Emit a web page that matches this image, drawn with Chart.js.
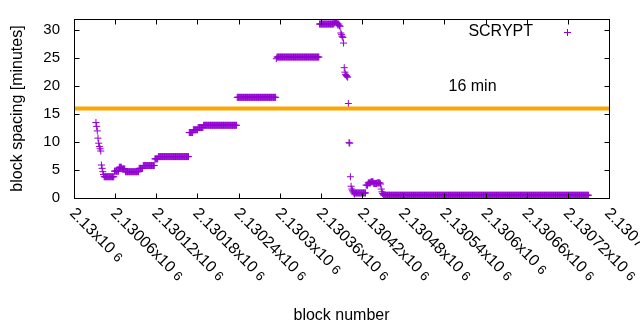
<!DOCTYPE html>
<html>
<head>
<meta charset="utf-8">
<script src="https://cdn.jsdelivr.net/npm/chart.js@4"></script>
<style>
  html, body { margin: 0; padding: 0; background: #fff; }
</style>
</head>
<body>
<canvas id="spacingChart" width="640" height="330"></canvas>
<script>
// block number = baseBlock + offset, spacing in minutes (runs of equal spacing)
var baseBlock = 2130000;
var runStart = [32, 33, 34, 35, 36, 37, 38, 39, 40, 41, 42, 43, 44, 59, 66, 70, 75, 95, 101, 118, 123, 168, 174, 181, 189, 238, 295, 296, 358,
  379, 380, 381, 382, 383, 384, 385, 386, 387, 388, 389, 390, 391, 392, 393, 394, 395, 396, 397, 398, 399, 400, 401, 402, 403, 404, 405, 406, 407, 408, 409, 410,
  426, 429, 433, 437, 442, 447, 448, 449, 450, 451, 452];
var runEnd = [32, 33, 34, 35, 36, 37, 38, 39, 40, 41, 42, 43, 58, 65, 69, 74, 94, 100, 117, 122, 167, 173, 180, 188, 237, 294, 295, 357, 378,
  379, 380, 381, 382, 383, 384, 385, 386, 387, 388, 389, 390, 391, 392, 393, 394, 395, 396, 397, 398, 399, 400, 401, 402, 403, 404, 405, 406, 407, 408, 409, 425,
  428, 432, 436, 441, 446, 447, 448, 449, 450, 451, 750];
var runMinutes = [13.5, 12.8, 12.0, 10.7, 9.8, 9.2, 8.8, 8.4, 5.9, 5.3, 4.7, 4.2, 3.8, 4.8, 5.5, 5.2, 4.7, 5.3, 5.8, 7.0, 7.4, 11.7, 12.2, 12.6, 13.0, 18.0, 24.9, 25.2, 31.1,
  31.2, 31.4, 31.6, 32.0, 31.4, 31.1, 30.9, 31.1, 30.8, 30.7, 29.5, 29.2, 28.9, 28.7, 27.7, 23.3, 22.5, 22.1, 21.9, 21.7, 21.6, 16.9, 9.9, 9.8, 3.8, 2.1, 1.6, 1.3, 1.1, 0.9, 0.7, 0.9,
  2.3, 2.7, 2.9, 2.6, 2.7, 2.5, 1.6, 1.1, 0.8, 0.6, 0.5];

var targetMinutes = 16;
var targetLabel = '16 min';
var targetLabelBlock = 2130546;
var targetLabelMinutes = 20;

var xTickValues = [2130000, 2130060, 2130120, 2130180, 2130240, 2130300, 2130360, 2130420, 2130480, 2130540, 2130600, 2130660, 2130720, 2130780];
var xTickLabels = ['2.13', '2.13006', '2.13012', '2.13018', '2.13024', '2.1303', '2.13036', '2.13042', '2.13048', '2.13054', '2.1306', '2.13066', '2.13072', '2.13078'];
var xTickExponent = '6';
var yTickValues = [0, 5, 10, 15, 20, 25, 30];

var purple = '#9400d3';
var fontFamily = '"Liberation Sans", Arial, sans-serif';
Chart.defaults.font.family = fontFamily;
Chart.defaults.color = '#000';

var points = [];
for (var i = 0; i < runStart.length; i++) {
  for (var b = runStart[i]; b <= runEnd[i]; b++) {
    points.push({ x: baseBlock + b, y: runMinutes[i] });
  }
}

// box, inward ticks, rotated x labels, key and the 16 min label
var gnuplotDecor = {
  id: 'gnuplotDecor',
  afterDraw: function (chart) {
    var ctx = chart.ctx;
    var a = chart.chartArea;
    var xs = chart.scales.x;
    var ys = chart.scales.y;
    var L = Math.round(a.left) + 0.5, R = Math.round(a.right) + 0.5;
    var T = Math.round(a.top) + 0.5, B = Math.round(a.bottom) + 0.5;
    ctx.save();
    ctx.strokeStyle = '#000';
    ctx.lineWidth = 1;
    ctx.strokeRect(L, T, R - L, B - T);
    ctx.beginPath();
    xTickValues.forEach(function (v) {
      var px = Math.round(xs.getPixelForValue(v)) + 0.5;
      ctx.moveTo(px, B); ctx.lineTo(px, B - 5);
      ctx.moveTo(px, T); ctx.lineTo(px, T + 5);
    });
    yTickValues.forEach(function (v) {
      var py = Math.round(ys.getPixelForValue(v)) + 0.5;
      ctx.moveTo(L, py); ctx.lineTo(L + 5, py);
      ctx.moveTo(R, py); ctx.lineTo(R - 5, py);
    });
    ctx.stroke();

    ctx.fillStyle = '#000';
    ctx.textBaseline = 'middle';
    ctx.textAlign = 'left';
    xTickValues.forEach(function (v, i) {
      var px = xs.getPixelForValue(v);
      ctx.save();
      ctx.translate(px - 2, 211);
      ctx.rotate(Math.PI / 4);
      ctx.font = '16px ' + fontFamily;
      var main = xTickLabels[i] + 'x10';
      ctx.fillText(main, 0, 0);
      var w = ctx.measureText(main + ' ').width;
      ctx.font = '13px ' + fontFamily;
      ctx.fillText(xTickExponent, w, 1);
      ctx.restore();
    });

    ctx.font = '16px ' + fontFamily;
    ctx.textAlign = 'right';
    ctx.fillText(chart.data.datasets[1].label, 533, 32);
    ctx.strokeStyle = purple;
    ctx.beginPath();
    ctx.moveTo(564, 32.5); ctx.lineTo(571, 32.5);
    ctx.moveTo(567.5, 29); ctx.lineTo(567.5, 36);
    ctx.stroke();

    ctx.textAlign = 'left';
    ctx.fillText(targetLabel, xs.getPixelForValue(targetLabelBlock), ys.getPixelForValue(targetLabelMinutes));
    ctx.restore();
  }
};

var ctx = document.getElementById('spacingChart').getContext('2d');
var spacingChart = new Chart(ctx, {
  type: 'scatter',
  data: {
    datasets: [{
      type: 'line',
      label: 'target',
      data: [{ x: xTickValues[0], y: targetMinutes }, { x: xTickValues[xTickValues.length - 1], y: targetMinutes }],
      borderColor: '#ffa500',
      borderWidth: 4,
      borderCapStyle: 'square',
      pointRadius: 0
    }, {
      label: 'SCRYPT',
      data: points,
      pointStyle: 'cross',
      pointRadius: 3.5,
      borderColor: purple,
      backgroundColor: purple,
      borderWidth: 1
    }]
  },
  options: {
    responsive: false,
    animation: false,
    events: [],
    layout: { padding: { top: 19, right: 31, left: 0, bottom: 0 } },
    plugins: { legend: { display: false }, tooltip: { enabled: false } },
    scales: {
      x: {
        type: 'linear',
        min: xTickValues[0],
        max: xTickValues[xTickValues.length - 1],
        afterBuildTicks: function (s) { s.ticks = xTickValues.map(function (v) { return { value: v }; }); },
        afterFit: function (s) { s.height = 132; s.paddingLeft = 0; s.paddingRight = 0; },
        ticks: { display: false },
        grid: { display: false },
        border: { display: false },
        title: { display: true, text: 'block number', font: { size: 16 }, padding: { top: 0, bottom: 5 } }
      },
      y: {
        min: 0,
        max: 32,
        afterBuildTicks: function (s) { s.ticks = yTickValues.map(function (v) { return { value: v }; }); },
        afterFit: function (s) { s.width = 74; s.paddingTop = 0; s.paddingBottom = 0; },
        ticks: { padding: 14, font: { size: 15 } },
        grid: { display: false, drawTicks: false },
        border: { display: false },
        title: { display: true, text: 'block spacing [minutes]', font: { size: 16 }, padding: { top: 8, bottom: 0 } }
      }
    }
  },
  plugins: [gnuplotDecor]
});
</script>
</body>
</html>
